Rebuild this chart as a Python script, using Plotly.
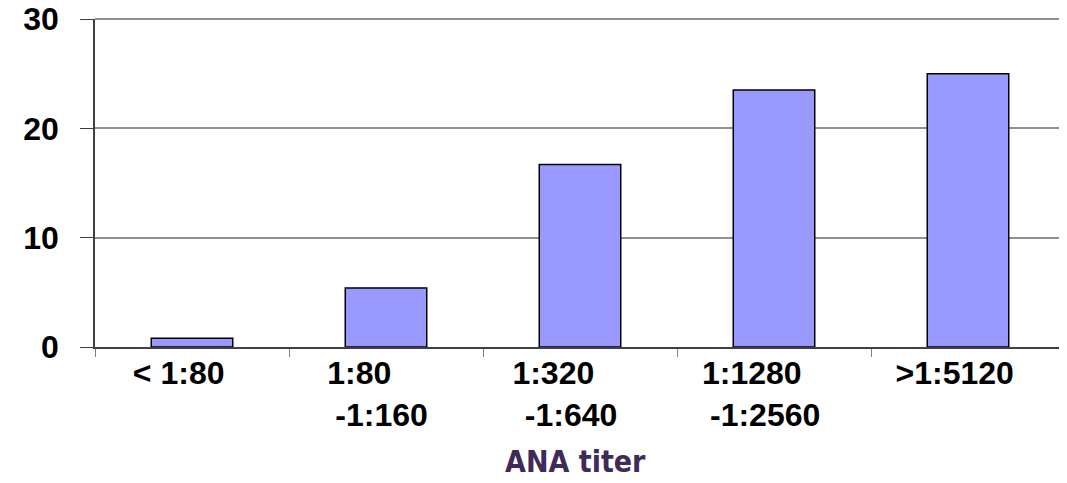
import plotly.graph_objects as go

# Data
categories = ["< 1:80", "1:80 -1:160", "1:320 -1:640", "1:1280 -1:2560", ">1:5120"]
label_line1 = ["< 1:80", "1:80", "1:320", "1:1280", ">1:5120"]
label_line2 = ["", "-1:160", "-1:640", "-1:2560", ""]
values = [0.8, 5.4, 16.7, 23.5, 25.0]
y_ticks = [0, 10, 20, 30]
x_title = "ANA titer"

NB = "\u00a0"
pad1 = [3, 6, 6, 5, 3]
pad2 = [0, 1, 2, 2, 0]
ticktext = []
for a, b, p1, p2 in zip(label_line1, label_line2, pad1, pad2):
    t = a + NB * p1
    if b:
        t += "<br>" + b + NB * p2
    ticktext.append(t)

fig = go.Figure()
fig.add_trace(go.Bar(
    x=categories, y=values,
    marker=dict(color="#9999FF", line=dict(color="#000000", width=1.5)),
))

# page body has an 8px default margin; size the figure to fit the window
fig.update_layout(
    width=1059, height=475,
    margin=dict(l=87, r=2, t=11, b=136),
    plot_bgcolor="white", paper_bgcolor="white",
    bargap=0.58,
    showlegend=False,
    font=dict(family="Liberation Sans, Arial, sans-serif", color="#000000"),
)
fig.update_xaxes(
    type="category", automargin=False,
    tickmode="array", tickvals=categories, ticktext=ticktext,
    tickson="boundaries",
    ticks="outside", ticklen=8, tickcolor="#808080", tickwidth=1,
    showline=True, linecolor="#404040", linewidth=1.5,
    showgrid=False,
    ticklabelstandoff=-3,
    ticklabeloverflow="allow",
    tickfont=dict(family="Liberation Sans, Arial, sans-serif", size=32, color="#000000", weight="bold"),
)
fig.update_yaxes(
    range=[0, 30], tickmode="array", tickvals=y_ticks, automargin=False,
    ticks="outside", ticklen=13, tickcolor="#404040", tickwidth=1,
    showline=True, linecolor="#404040", linewidth=1.5,
    showgrid=True, gridcolor="#909090", gridwidth=1.5,
    zeroline=False,
    ticklabelstandoff=15,
    ticklabeloverflow="allow",
    tickfont=dict(family="Liberation Sans, Arial, sans-serif", size=32, color="#000000", weight="bold"),
)
# plot-area frame (top and right edges, gray)
fig.add_shape(type="line", xref="paper", yref="paper", x0=1, x1=1, y0=0, y1=1,
              line=dict(color="#909090", width=2))
fig.add_shape(type="line", xref="paper", yref="paper", x0=0, x1=1, y0=1, y1=1,
              line=dict(color="#909090", width=2))
fig.add_annotation(
    text=x_title, xref="paper", yref="paper", x=0.495, y=0, yshift=-114,
    xanchor="center", yanchor="middle", showarrow=False,
    font=dict(family="DejaVu Sans Condensed, DejaVu Sans, sans-serif", size=30,
              color="#3F2B5A", weight="bold"),
)

fig.write_html("out.html")
